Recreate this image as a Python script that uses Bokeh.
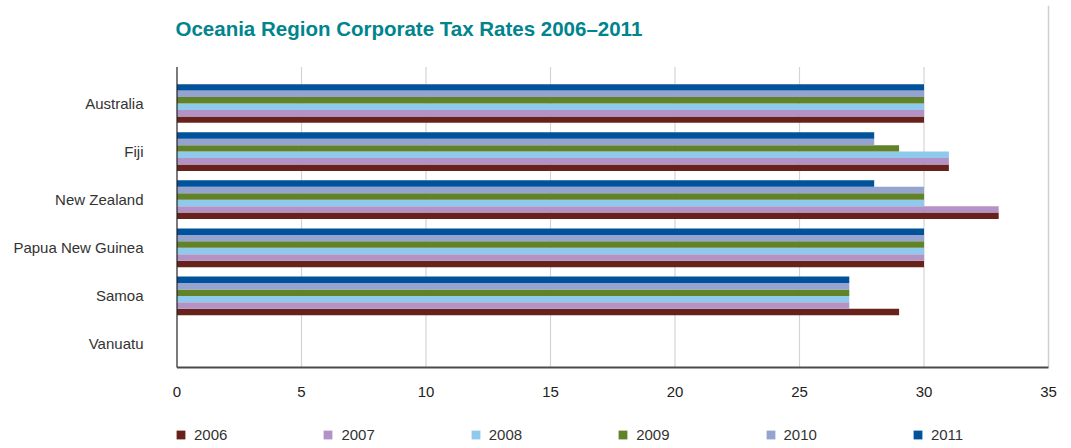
from bokeh.plotting import figure
from bokeh.models import (ColumnDataSource, Legend, LegendItem, FixedTicker,
                          Label, Range1d)
from bokeh.embed import file_html
from bokeh.resources import INLINE

countries = ["Australia", "Fiji", "New Zealand", "Papua New Guinea", "Samoa", "Vanuatu"]
years = ["2006", "2007", "2008", "2009", "2010", "2011"]
rate_2006 = [30, 31, 33, 30, 29, 0]
rate_2007 = [30, 31, 33, 30, 27, 0]
rate_2008 = [30, 31, 30, 30, 27, 0]
rate_2009 = [30, 29, 30, 30, 27, 0]
rate_2010 = [30, 28, 30, 30, 27, 0]
rate_2011 = [30, 28, 28, 30, 27, 0]
series = [rate_2006, rate_2007, rate_2008, rate_2009, rate_2010, rate_2011]
colors = ["#67231b", "#b393c6", "#8fc9eb", "#62822a", "#95a3d0", "#00529b"]
x_ticks = [0, 5, 10, 15, 20, 25, 30, 35]
title_text = "Oceania Region Corporate Tax Rates 2006\u20132011"

n = len(countries)
cat_pos = [n - 1 - i for i in range(n)]  # Australia on top
bar_h = 0.134
plot_top = 5.759
axis_y = -0.489
y_start, y_end = -2.1726, 7.037
x_min, x_max = x_ticks[0], x_ticks[-1]

p = figure(frame_width=905, frame_height=443, output_backend="svg", toolbar_location=None,
           x_range=Range1d(-0.6627, 35.683), y_range=Range1d(y_start, y_end),
           min_border_left=160, min_border_right=6, min_border_top=5,
           min_border_bottom=0)
p.outline_line_color = None
p.xgrid.grid_line_color = None
p.ygrid.grid_line_color = None
p.background_fill_color = "white"
p.border_fill_color = "white"

# gridlines
grid_x = [t for t in x_ticks if x_min < t < x_max]
p.segment(x0=grid_x, x1=grid_x, y0=[axis_y] * len(grid_x), y1=[plot_top] * len(grid_x),
          line_color="#d4d4d4", line_width=1.2)
p.segment(x0=[x_max], x1=[x_max], y0=[axis_y], y1=[y_end], line_color="#cfcfcf", line_width=1.5)

items = []
for k, (yr, vals, c) in enumerate(zip(years, series, colors)):
    off = (k - 2.5) * bar_h
    src = ColumnDataSource(dict(y=[cp + off for cp in cat_pos], right=vals, left=[0] * n))
    r = p.hbar(y="y", left="left", right="right", height=bar_h, source=src,
               fill_color=c, line_color=None)
    items.append(LegendItem(label=yr, renderers=[r]))

# axis lines
p.segment(x0=[x_min], x1=[x_min], y0=[axis_y], y1=[plot_top], line_color="#222222", line_width=1.2)
p.segment(x0=[x_min], x1=[x_max], y0=[axis_y], y1=[axis_y], line_color="#4a4a4a", line_width=2)

# axes
p.xaxis.fixed_location = axis_y
p.xaxis.ticker = FixedTicker(ticks=x_ticks)
p.xaxis.axis_line_color = None
p.xaxis.major_tick_line_color = None
p.xaxis.minor_tick_line_color = None
p.xaxis.major_tick_out = 0
p.xaxis.major_tick_in = 0
p.xaxis.major_label_standoff = 19
p.xaxis.major_label_text_font = "Liberation Sans"
p.xaxis.major_label_text_font_size = "15px"
p.xaxis.major_label_text_color = "#222222"

p.yaxis.ticker = FixedTicker(ticks=cat_pos)
p.yaxis.major_label_overrides = {cp: c for cp, c in zip(cat_pos, countries)}
p.yaxis.axis_line_color = None
p.yaxis.major_tick_line_color = None
p.yaxis.minor_tick_line_color = None
p.yaxis.major_tick_out = 0
p.yaxis.major_label_standoff = 17
p.yaxis.major_label_text_font = "Liberation Sans"
p.yaxis.major_label_text_font_size = "15px"
p.yaxis.major_label_text_color = "#333333"

title = Label(x=-0.06, y=6.559, text=title_text, text_font="Liberation Sans",
              text_font_style="bold", text_font_size="20.5px", text_color="#00848e",
              text_baseline="middle", text_align="left")
p.add_layout(title)

legend = Legend(items=items, orientation="horizontal", location=(15, 5),
                glyph_width=11, glyph_height=11, label_standoff=8, spacing=95,
                label_text_font="Liberation Sans", label_text_font_size="15px",
                label_text_color="#333333", label_height=17, border_line_color=None,
                background_fill_alpha=0, margin=0, padding=0)
p.add_layout(legend, "center")

open("out.html", "w").write(file_html(p, INLINE))
